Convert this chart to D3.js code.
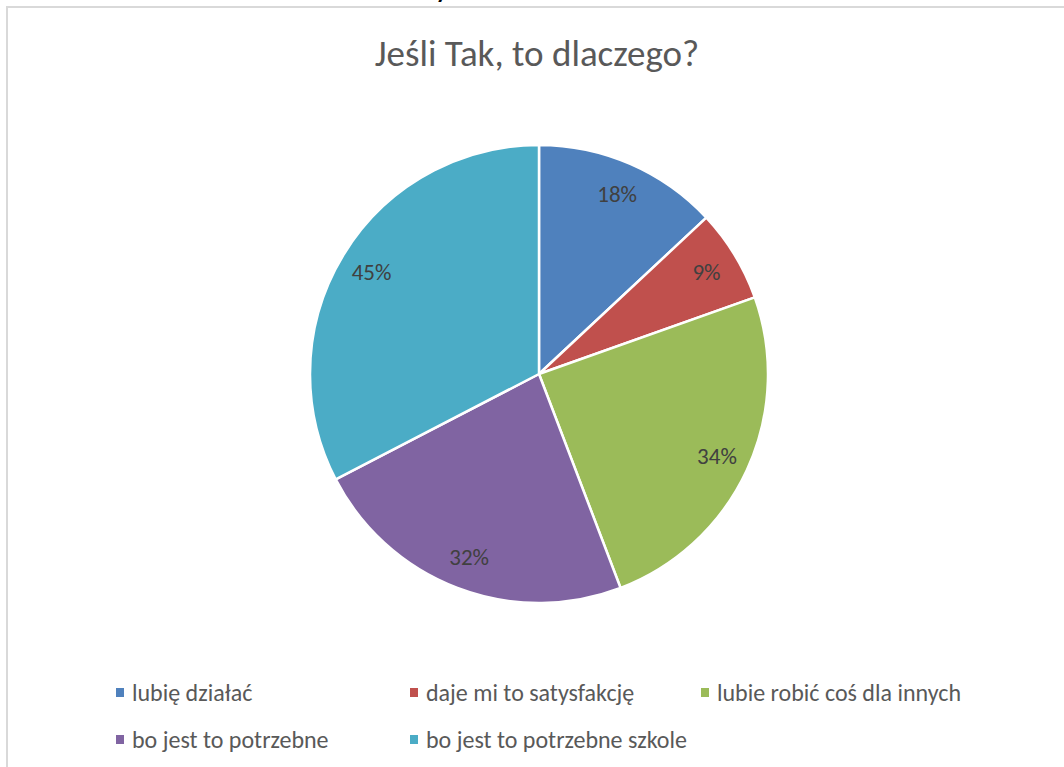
<!DOCTYPE html>
<html><head><meta charset="utf-8">
<script src="https://cdn.jsdelivr.net/npm/d3@7"></script>
<style>html,body{margin:0;padding:0;background:#fff;overflow:hidden}</style>
</head><body>
<script>
const categories = ["lubię działać","daje mi to satysfakcję","lubie robić coś dla innych","bo jest to potrzebne","bo jest to potrzebne szkole"];
const values = [18, 9, 34, 32, 45];
const labels = ["18%","9%","34%","32%","45%"];
const colors = ["#4F81BD","#C0504D","#9BBB59","#8064A2","#4BACC6"];
const title = "Jeśli Tak, to dlaczego?";

const W = 1064, H = 767;
const font = "Carlito, Calibri, Lato, 'Open Sans', sans-serif";
const svg = d3.select("body").append("svg").attr("width", W).attr("height", H);

// cut-off text above the chart frame (as in the reference)
svg.append("text").attr("x", 436).attr("y", -2).attr("font-family", font)
  .attr("font-size", 24).attr("font-weight", "bold").attr("fill", "#000").text("y");

// chart frame
svg.append("rect").attr("x", 7).attr("y", 7).attr("width", W + 20).attr("height", H + 20)
  .attr("fill", "#fff").attr("stroke", "#d9d9d9").attr("stroke-width", 2);

svg.append("text").attr("x", 537).attr("y", 66).attr("text-anchor", "middle")
  .attr("font-family", font).attr("font-size", 37).attr("fill", "#595959").text(title);

const cx = 539, cy = 374, R = 229;
const pie = d3.pie().sort(null).value(d => d)(values);
const arc = d3.arc().innerRadius(0).outerRadius(R);
const labelArc = d3.arc().innerRadius(R * 0.856).outerRadius(R * 0.856);
const g = svg.append("g").attr("transform", `translate(${cx},${cy})`);
g.selectAll("path").data(pie).join("path")
  .attr("d", arc).attr("fill", (d, i) => colors[i])
  .attr("stroke", "#fff").attr("stroke-width", 2.5).attr("stroke-linejoin", "round");
g.selectAll("text").data(pie).join("text")
  .attr("transform", d => `translate(${labelArc.centroid(d)})`)
  .attr("text-anchor", "middle").attr("dy", "0.35em")
  .attr("font-family", font).attr("font-size", 23).attr("fill", "#404040")
  .text((d, i) => labels[i]);

// legend
const legPos = [[116, 693], [410, 693], [701, 693], [116, 740], [410, 740]];
const lg = svg.append("g");
categories.forEach((c, i) => {
  const [x, y] = legPos[i];
  lg.append("rect").attr("x", x).attr("y", y - 5).attr("width", 8).attr("height", 9).attr("fill", colors[i]);
  lg.append("text").attr("x", x + 16).attr("y", y).attr("dy", "0.35em")
    .attr("font-family", font).attr("font-size", 24).attr("fill", "#595959").text(c);
});
</script>
</body></html>
